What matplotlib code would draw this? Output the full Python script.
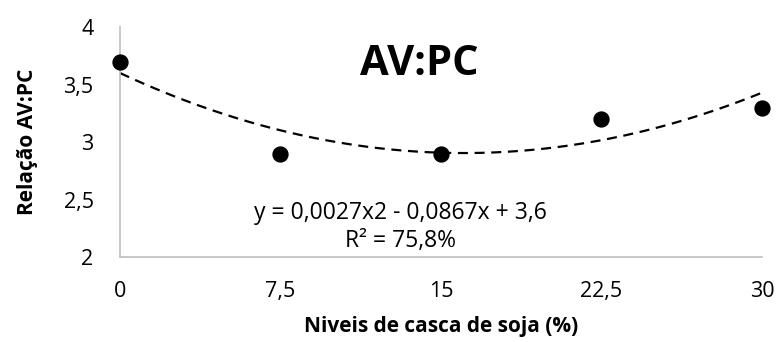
import numpy as np
import matplotlib.pyplot as plt

plt.rcParams['font.family'] = ['Open Sans', 'DejaVu Sans']

# dados
niveis = [0, 7.5, 15, 22.5, 30]
relacao = [3.7, 2.9, 2.9, 3.2, 3.3]
coef = [0.0027, -0.0867, 3.6]  # y = a x² + b x + c (linha de tendência)
xticks = [0, 7.5, 15, 22.5, 30]
xlabels = ['0', '7,5', '15', '22,5', '30']
yticks = [2, 2.5, 3, 3.5, 4]
ylabels = ['2', '2,5', '3', '3,5', '4']

fig = plt.figure(figsize=(7.78, 3.42), dpi=100)
ax = fig.add_axes([0.1542, 0.2485, 0.8252, 0.6725])

xs = np.linspace(0, 30, 200)
ax.plot(xs, np.polyval(coef, xs), color='black', lw=1.6, ls=(0, (4.5, 3)), zorder=2)
ax.scatter(niveis, relacao, s=115, color='black', zorder=3, clip_on=False)

ax.set_xlim(0, 30)
ax.set_ylim(2, 4)
ax.set_xticks(xticks, xlabels)
ax.set_yticks(yticks, ylabels)
ax.tick_params(length=0, labelsize=15.5)
ax.tick_params(axis='x', pad=17)
ax.tick_params(axis='y', pad=19)
for s in ['top', 'right']:
    ax.spines[s].set_visible(False)
for s in ['left', 'bottom']:
    ax.spines[s].set_color('#bfbfbf')
    ax.spines[s].set_linewidth(1.2)

ax.set_xlabel('Niveis de casca de soja (%)', fontsize=15, fontweight='bold', labelpad=10)
ax.set_ylabel('Relação AV:PC', fontsize=15, fontweight='bold', labelpad=18)

ax.text(14.0, 3.67, 'AV:PC', fontsize=30, fontweight='bold', ha='center', va='center')
ax.text(13.1, 2.38, 'y = 0,0027x2 - 0,0867x + 3,6', fontsize=16.5, ha='center', va='center')
ax.text(13.1, 2.14, 'R² = 75,8%', fontsize=16.5, ha='center', va='center')

fig.savefig('out.png', dpi=100)
